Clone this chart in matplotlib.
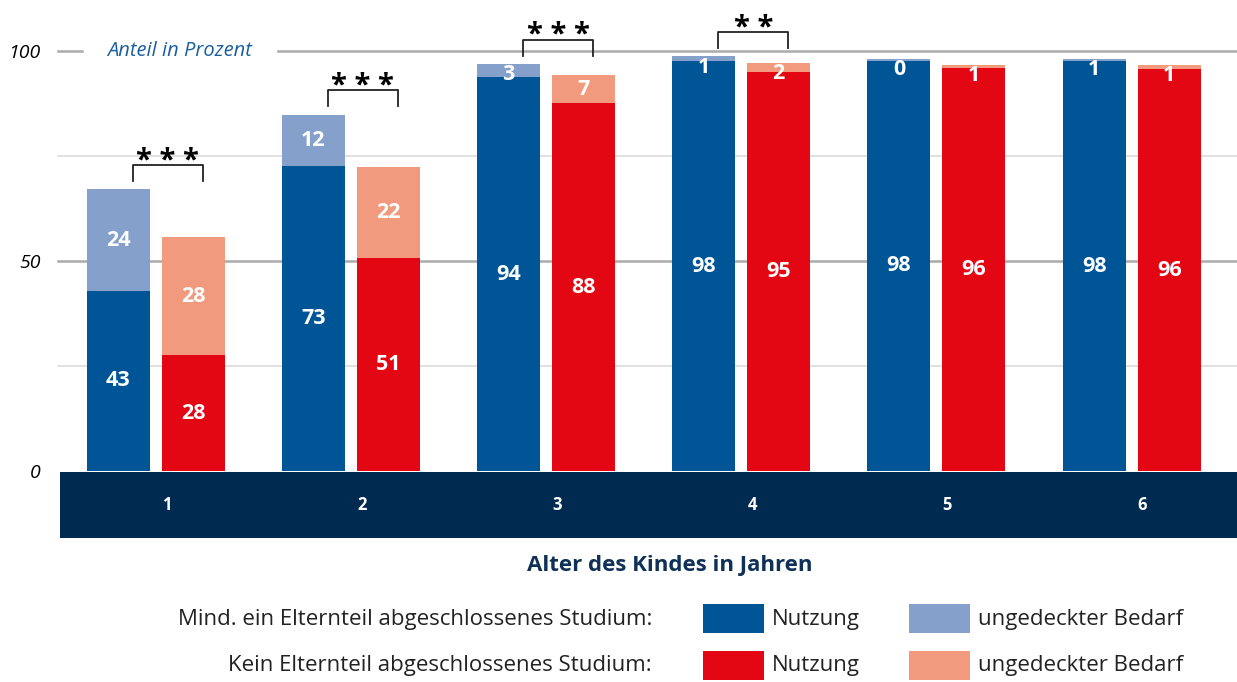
import matplotlib.pyplot as plt
from matplotlib.patches import Rectangle

# Alter des Kindes in Jahren
ages = ['1', '2', '3', '4', '5', '6']
# Mind. ein Elternteil abgeschlossenes Studium
acad_use = [42.9, 72.6, 93.8, 97.6, 97.7, 97.6]
acad_need = [24.2, 12.2, 3.1, 1.1, 0.4, 0.6]
# Kein Elternteil abgeschlossenes Studium
nonacad_use = [27.6, 50.6, 87.6, 95.1, 96.0, 95.7]
nonacad_need = [28.1, 21.8, 6.7, 2.1, 0.7, 1.0]
# Signifikanz
stars = ['***', '***', '***', '**', '', '']

BLUE = '#005597'
LIGHT_BLUE = '#84A0CB'
RED = '#E30613'
SALMON = '#F19A7E'
NAVY = '#002A50'

plt.rcParams['font.family'] = ['Open Sans', 'DejaVu Sans']

W, H = 1237, 682
fig = plt.figure(figsize=(W / 100, H / 100), dpi=100)

ax = fig.add_axes([60 / W, 1 - 471 / H, 1177 / W, 471 / H])
ax.set_xlim(-0.49, 5.54)
ax.set_ylim(0, 471 / 4.2)
for s in ax.spines.values():
    s.set_visible(False)
ax.set_xticks([])
ax.set_yticks([0, 50, 100])
ax.set_yticklabels(['0', '50', '100'], fontstyle='italic', fontsize=14)
ax.tick_params(axis='y', length=0, pad=14)

# gridlines
yt = ax.get_yaxis_transform()
for y in [25, 75]:
    ax.plot([-0.002, 1], [y, y], color='#DCDCDC', lw=1.2, transform=yt, clip_on=False, zorder=0)
ax.plot([-0.002, 1], [50, 50], color='#ABABAB', lw=1.8, transform=yt, clip_on=False, zorder=0)
ax.plot([-0.002, 0.0187], [100, 100], color='#ABABAB', lw=1.8, transform=yt, clip_on=False, zorder=0)
ax.plot([0.185, 1], [100, 100], color='#ABABAB', lw=1.8, transform=yt, clip_on=False, zorder=0)
ax.text(0.1018, 100, 'Anteil in Prozent', transform=yt, ha='center', va='center',
        fontsize=14.5, fontstyle='italic', color='#1A5EA0')

x = list(range(len(ages)))
off = 0.192
bw = 0.323
xb = [i - off for i in x]
xr = [i + off for i in x]

ax.bar(xb, acad_use, bw, color=BLUE, zorder=2)
ax.bar(xb, acad_need, bw, bottom=acad_use, color=LIGHT_BLUE, zorder=2)
ax.bar(xr, nonacad_use, bw, color=RED, zorder=2)
ax.bar(xr, nonacad_need, bw, bottom=nonacad_use, color=SALMON, zorder=2)

lab = dict(color='white', fontsize=15.5, fontweight='bold', ha='center', va='center', zorder=3)
for xs, use, need in [(xb, acad_use, acad_need), (xr, nonacad_use, nonacad_need)]:
    for xi, u, n in zip(xs, use, need):
        ax.text(xi, u / 2, f'{round(u)}', **lab)
        if n >= 5:
            ax.text(xi, u + n / 2, f'{round(n)}', **lab)
        else:
            ax.text(xi, u + n - 2.6, f'{round(n)}', **lab)

# significance brackets
for i, s in enumerate(stars):
    if not s:
        continue
    top = max(acad_use[i] + acad_need[i], nonacad_use[i] + nonacad_need[i])
    y0 = top + 2.0
    y1 = y0 + 3.8
    x0, x1 = i - 0.118, i + 0.241
    ax.plot([x0, x0, x1, x1], [y0, y1, y1, y0], color='#222222', lw=1.3, zorder=3, clip_on=False)
    ax.text((x0 + x1) / 2, y1 + 0.9, ' '.join(s), ha='center', va='center', fontsize=21,
            fontweight='bold', color='black', clip_on=False)

# category band
band = fig.add_axes([60 / W, 1 - 538 / H, 1177 / W, 66 / H])
band.set_facecolor(NAVY)
band.set_xlim(ax.get_xlim())
band.set_ylim(0, 1)
band.set_xticks([])
band.set_yticks([])
for s in band.spines.values():
    s.set_visible(False)
for i, a in enumerate(ages):
    band.text(i + 0.056, 0.5, a, color='white', fontsize=12, fontweight='bold',
              ha='center', va='center')

fig.text(670 / W, 1 - 566 / H, 'Alter des Kindes in Jahren', ha='center', va='center',
         fontsize=16, fontweight='bold', color='#0F3057')

# legend
rows = [('Mind. ein Elternteil abgeschlossenes Studium:', BLUE, LIGHT_BLUE, 619),
        ('Kein Elternteil abgeschlossenes Studium:', RED, SALMON, 666)]
for label, c1, c2, yp in rows:
    yf = 1 - yp / H
    fig.text(652 / W, yf, label, ha='right', va='center', fontsize=16, color='#222222')
    for px, c, t in [(703, c1, 'Nutzung'), (909, c2, 'ungedeckter Bedarf')]:
        fig.add_artist(Rectangle((px / W, yf - 14 / H), 61 / W, 29 / H, transform=fig.transFigure,
                                 facecolor=c, edgecolor='none'))
        fig.text((px + 69) / W, yf, t, ha='left', va='center', fontsize=16, color='#222222')

fig.savefig('out.png', dpi=100)
